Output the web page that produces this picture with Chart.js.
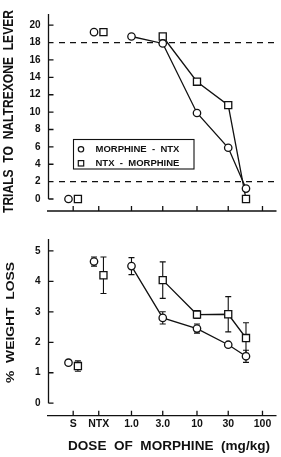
<!DOCTYPE html>
<html><head><meta charset="utf-8">
<script src="https://cdn.jsdelivr.net/npm/chart.js@4"></script>
<style>
html,body{margin:0;padding:0;background:#fff;width:281px;height:457px;overflow:hidden}
canvas{position:absolute;left:0}
#c1{top:0}
#c2{top:225px}
</style></head><body>
<canvas id="c1" width="281" height="225"></canvas>
<canvas id="c2" width="281" height="232"></canvas>
<script>
// ---------------- data ----------------
const seriesNames = ['MORPHINE - NTX', 'NTX - MORPHINE'];
const tickLabels = ['S', 'NTX', '1.0', '3.0', '10', '30', '100'];
const controlLabels = ['S', 'NTX'];
const controlAxisPos = [-0.89, -0.50];     // where the S and NTX categories sit on the log-dose axis
const tickDoses = [1, 3, 10, 30, 100];
const doses = [1, 3, 10, 30, 56];           // mg/kg

// Trials to naltrexone lever
const trialsTicks = [0, 2, 4, 6, 8, 10, 12, 14, 16, 18, 20];
const criterionLines = [18, 2];
const trialsMorNtxControl = [0, 19.2];
const trialsMorNtxDose    = [18.7, 17.9, 9.9, 5.9, 1.2];
const trialsNtxMorControl = [0, 19.2];
const trialsNtxMorDose    = [null, 18.7, 13.5, 10.8, 0];

// % weight loss (mean, error)
const weightTicks = [0, 1, 2, 3, 4, 5];
const weightMorNtxControl    = [1.33, 4.65];
const weightMorNtxControlErr = [0.05, 0.15];
const weightMorNtxDose       = [4.5, 2.8, 2.45, 1.92, 1.54];
const weightMorNtxDoseErr    = [0.28, 0.2, 0.15, 0, 0.2];
const weightNtxMorControl    = [1.22, 4.2];
const weightNtxMorControlErr = [0.17, 0.6];
const weightNtxMorDose       = [null, 4.04, 2.91, 2.92, 2.14];
const weightNtxMorDoseErr    = [null, 0.6, 0.13, 0.58, 0.5];

// ---------------- helpers ----------------
const INK = '#111';
const FONT = "'Liberation Sans', Arial, Helvetica, sans-serif";
const DODGE = 0.072;   // horizontal dodge of the two series at S / NTX (axis units)
const X_MIN = -1.267, X_MAX = 2.214;
const xTickPos = controlAxisPos.concat(tickDoses.map(d => Math.log10(d)));

function controlPts(vals, sign, errs) {
  return vals.map((v, i) => ({x: controlAxisPos[i] + sign * DODGE, y: v, e: errs ? errs[i] : 0}));
}
function dosePts(vals, errs) {
  const out = [];
  doses.forEach((d, i) => { if (vals[i] !== null) out.push({x: Math.log10(d), y: vals[i], e: errs ? errs[i] : 0}); });
  return out;
}
function ds(data, style, line) {
  return {
    data, showLine: line, borderColor: INK, borderWidth: 1.3, backgroundColor: '#fff',
    pointStyle: style, pointRadius: style === 'rect' ? 5 : 3.7, pointBorderWidth: 1.3,
    pointBackgroundColor: '#fff', pointBorderColor: INK, pointHoverRadius: 0, tension: 0, clip: false
  };
}

function drawFitted(ctx, text, cx, cy, len, font, rotate) {
  ctx.save();
  ctx.font = font; ctx.fillStyle = INK; ctx.textAlign = 'center'; ctx.textBaseline = 'middle';
  const w = ctx.measureText(text).width;
  ctx.translate(cx, cy);
  if (rotate) ctx.rotate(-Math.PI / 2);
  ctx.scale(len / w, 1);
  ctx.fillText(text, 0, 0);
  ctx.restore();
}

const axesPlugin = {
  id: 'axesLines',
  afterDraw(chart, args, o) {
    const {ctx, chartArea: a, scales: {x, y}} = chart;
    ctx.save(); ctx.strokeStyle = INK; ctx.lineWidth = 1.3;
    ctx.beginPath();
    const y0 = y.getPixelForValue(0);
    ctx.moveTo(a.left, a.top); ctx.lineTo(a.left, y0);
    o.yTicks.forEach(v => { const p = y.getPixelForValue(v); ctx.moveTo(a.left, p); ctx.lineTo(a.left + 5, p); });
    ctx.moveTo(a.left - 1.5, a.bottom); ctx.lineTo(a.right, a.bottom);
    xTickPos.forEach(v => { const p = x.getPixelForValue(v); ctx.moveTo(p, a.bottom); ctx.lineTo(p, a.bottom - 5); });
    ctx.stroke();
    ctx.restore();
  }
};

const refLinePlugin = {
  id: 'refLines',
  beforeDatasetsDraw(chart, args, o) {
    if (!o.values) return;
    const {ctx, chartArea: a, scales: {y}} = chart;
    ctx.save(); ctx.strokeStyle = INK; ctx.lineWidth = 1.3; ctx.setLineDash([6, 5]);
    o.values.forEach(v => {
      const p = y.getPixelForValue(v);
      ctx.beginPath(); ctx.moveTo(a.left + 10.5, p); ctx.lineTo(a.right, p); ctx.stroke();
    });
    ctx.restore();
  }
};

const errorPlugin = {
  id: 'errBars',
  beforeDatasetsDraw(chart) {
    const {ctx, scales: {x, y}} = chart;
    ctx.save(); ctx.strokeStyle = INK; ctx.lineWidth = 1.1;
    chart.data.datasets.forEach(d => d.data.forEach(pt => {
      if (!pt.e) return;
      const px = x.getPixelForValue(pt.x);
      const t = y.getPixelForValue(pt.y + pt.e), b = y.getPixelForValue(pt.y - pt.e);
      ctx.beginPath();
      ctx.moveTo(px, t); ctx.lineTo(px, b);
      ctx.moveTo(px - 3, t); ctx.lineTo(px + 3, t);
      ctx.moveTo(px - 3, b); ctx.lineTo(px + 3, b);
      ctx.stroke();
    }));
    ctx.restore();
  }
};

const textPlugin = {
  id: 'texts',
  afterDraw(chart, args, o) {
    (o.items || []).forEach(t => drawFitted(chart.ctx, t.text, t.cx, t.cy, t.len, t.font, t.rotate));
    if (o.legend) {
      const ctx = chart.ctx, L = o.legend;
      ctx.save(); ctx.strokeStyle = INK; ctx.lineWidth = 1.1;
      ctx.strokeRect(L.x, L.y, L.w, L.h);
      ctx.lineWidth = 1.2; ctx.fillStyle = '#fff';
      ctx.beginPath(); ctx.arc(L.mx, L.r1, 2.7, 0, Math.PI * 2); ctx.fill(); ctx.stroke();
      ctx.fillRect(L.mx - 2.7, L.r2 - 2.7, 5.4, 5.4); ctx.strokeRect(L.mx - 2.7, L.r2 - 2.7, 5.4, 5.4);
      ctx.fillStyle = INK; ctx.font = 'bold 9.5px ' + FONT; ctx.textBaseline = 'middle'; ctx.textAlign = 'left';
      ctx.fillText(seriesNames[0].replace(/ - /, '  -  '), L.tx, L.r1 + 0.5);
      ctx.fillText(seriesNames[1].replace(/ - /, '  -  '), L.tx, L.r2 + 0.5);
      ctx.restore();
    }
  }
};

function makeOptions(cfg) {
  return {
    responsive: false, animation: false, events: [],
    layout: {autoPadding: false, padding: {top: cfg.padTop, right: 4.5, left: 0, bottom: 0}},
    plugins: {legend: {display: false}, tooltip: {enabled: false},
      axesLines: {yTicks: cfg.yTicks}, refLines: {values: cfg.refs}, texts: cfg.texts},
    scales: {
      x: {type: 'linear', min: X_MIN, max: X_MAX,
        grid: {display: false, drawTicks: false}, border: {display: false},
        afterBuildTicks: s => { s.ticks = xTickPos.map(v => ({value: v})); },
        afterFit: s => { s.height = cfg.xHeight; },
        ticks: {display: cfg.showX, autoSkip: false, maxRotation: 0, padding: 2, color: INK,
          font: {family: FONT, size: 10.5, weight: 'bold'},
          callback: (v, i) => tickLabels[i]}
      },
      y: {type: 'linear', min: cfg.yMin, max: cfg.yMax,
        grid: {display: false, drawTicks: false}, border: {display: false},
        afterBuildTicks: s => { s.ticks = cfg.yTicks.map(v => ({value: v})); },
        afterFit: s => { s.width = 48.5; },
        ticks: {padding: 8, color: INK, font: {family: FONT, size: 10, weight: 'bold'}}
      }
    }
  };
}

const plugins = [refLinePlugin, errorPlugin, axesPlugin, textPlugin];

new Chart(document.getElementById('c1'), {
  type: 'scatter',
  data: {datasets: [
    ds(controlPts(trialsMorNtxControl, -1), 'circle', false),
    ds(dosePts(trialsMorNtxDose), 'circle', true),
    ds(controlPts(trialsNtxMorControl, 1), 'rect', false),
    ds(dosePts(trialsNtxMorDose), 'rect', true)
  ]},
  options: makeOptions({yMin: -1.38, yMax: 21.29, yTicks: trialsTicks, refs: criterionLines,
    padTop: 0, xHeight: 8.5, showX: false,
    texts: {items: [{text: 'TRIALS  TO  NALTREXONE  LEVER', cx: 9.5, cy: 111.5, len: 203, font: 'bold 14px ' + FONT, rotate: true}],
      legend: {x: 73.5, y: 139.5, w: 120.5, h: 29.5, mx: 81, r1: 149.3, r2: 163.3, tx: 95.5}}}),
  plugins
});

new Chart(document.getElementById('c2'), {
  type: 'scatter',
  data: {datasets: [
    ds(controlPts(weightMorNtxControl, -1, weightMorNtxControlErr), 'circle', false),
    ds(dosePts(weightMorNtxDose, weightMorNtxDoseErr), 'circle', true),
    ds(controlPts(weightNtxMorControl, 1, weightNtxMorControlErr), 'rect', false),
    ds(dosePts(weightNtxMorDose, weightNtxMorDoseErr), 'rect', true)
  ]},
  options: makeOptions({yMin: -0.41, yMax: 5.39, yTicks: weightTicks, refs: null,
    padTop: 5, xHeight: 41.3, showX: true,
    texts: {items: [
      {text: '%  WEIGHT  LOSS', cx: 11, cy: 97.5, len: 121, font: 'bold 11.5px ' + FONT, rotate: true},
      {text: 'DOSE  OF  MORPHINE  (mg/kg)', cx: 169, cy: 222, len: 202, font: 'bold 12.5px ' + FONT, rotate: false}
    ]}}),
  plugins
});
</script>
</body></html>
